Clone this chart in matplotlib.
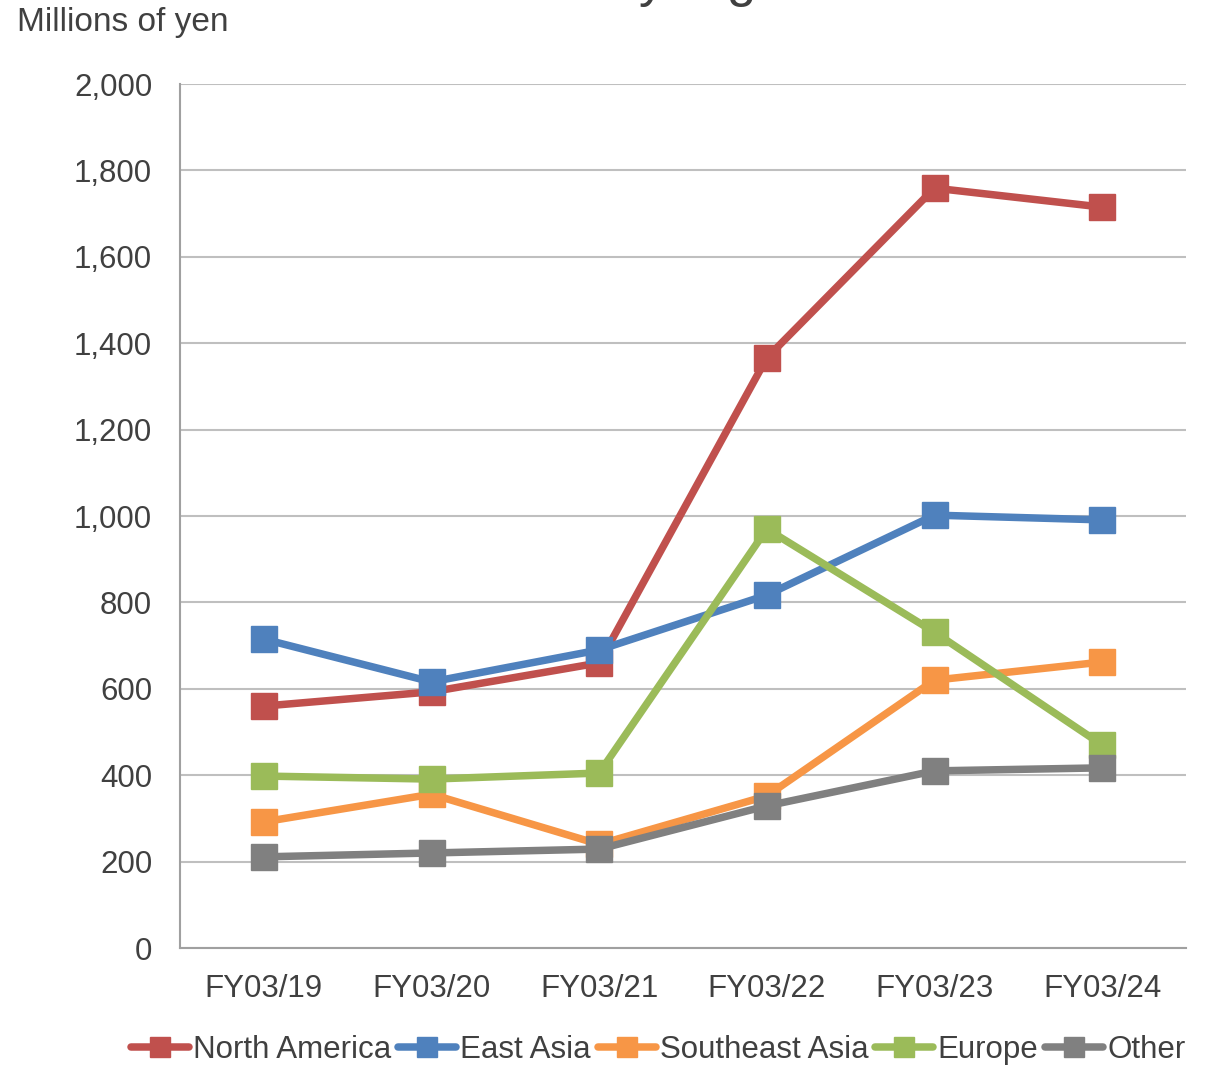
import matplotlib
matplotlib.use("Agg")
import matplotlib.pyplot as plt

categories = ["FY03/19", "FY03/20", "FY03/21", "FY03/22", "FY03/23", "FY03/24"]
north_america = [560, 593, 660, 1366, 1759, 1715]
east_asia = [715, 616, 690, 817, 1002, 991]
southeast_asia = [292, 356, 240, 352, 620, 662]
europe = [398, 391, 405, 970, 731, 470]
other = [211, 220, 229, 329, 410, 417]
series_names = ["North America", "East Asia", "Southeast Asia", "Europe", "Other"]
y_ticks = [0, 200, 400, 600, 800, 1000, 1200, 1400, 1600, 1800, 2000]

colors = ["#C0504D", "#4F81BD", "#F79646", "#9BBB59", "#808080"]
text_color = "#404040"

plt.rcParams["font.family"] = ["Liberation Sans", "DejaVu Sans"]

fig = plt.figure(figsize=(12.1, 10.68), dpi=100)
ax = fig.add_axes([180 / 1210, 1 - 948 / 1068, (1186 - 180) / 1210, (948 - 84) / 1068])

x = list(range(len(categories)))
all_series = [north_america, east_asia, southeast_asia, europe, other]
for i, (name, vals, c) in enumerate(zip(series_names, all_series, colors)):
    ax.plot(x, vals, color=c, lw=5.4, marker="s", markersize=19, label=name,
            zorder=3 + i, solid_capstyle="round", solid_joinstyle="round")

ax.set_xlim(-0.5, len(categories) - 0.5)
ax.set_ylim(0, 2000)
ax.set_yticks(y_ticks)
ax.set_yticklabels([f"{v:,}" for v in y_ticks])
ax.set_xticks(x)
ax.set_xticklabels(categories)
ax.grid(axis="y", color="#BFBFBF", lw=1.5, zorder=0)
ax.set_axisbelow(True)
for s in ["top", "right"]:
    ax.spines[s].set_visible(False)
for s in ["left", "bottom"]:
    ax.spines[s].set_color("#A0A0A0")
    ax.spines[s].set_linewidth(1.5)
ax.tick_params(axis="both", length=0, labelsize=22.5, colors=text_color)
ax.tick_params(axis="y", pad=20)
ax.tick_params(axis="x", pad=18.5)

fig.text(17 / 1210, 1 - 23 / 1068, "Millions of yen", fontsize=24, color=text_color,
         ha="left", va="center")
# Title mostly cut off at the top edge of the image
fig.text(463 / 1210, 1 + 4 / 1068, "Sales by region", fontsize=38, color=text_color,
         ha="left", va="baseline")

leg = fig.legend(loc="center", bbox_to_anchor=(658 / 1210, 18 / 1068), ncol=5,
                 frameon=False, fontsize=22.5, handlelength=1.86, handletextpad=0.13,
                 columnspacing=0.22, markerscale=0.79, labelcolor=text_color,
                 borderaxespad=0, borderpad=0)

fig.savefig("out.png", dpi=100)
